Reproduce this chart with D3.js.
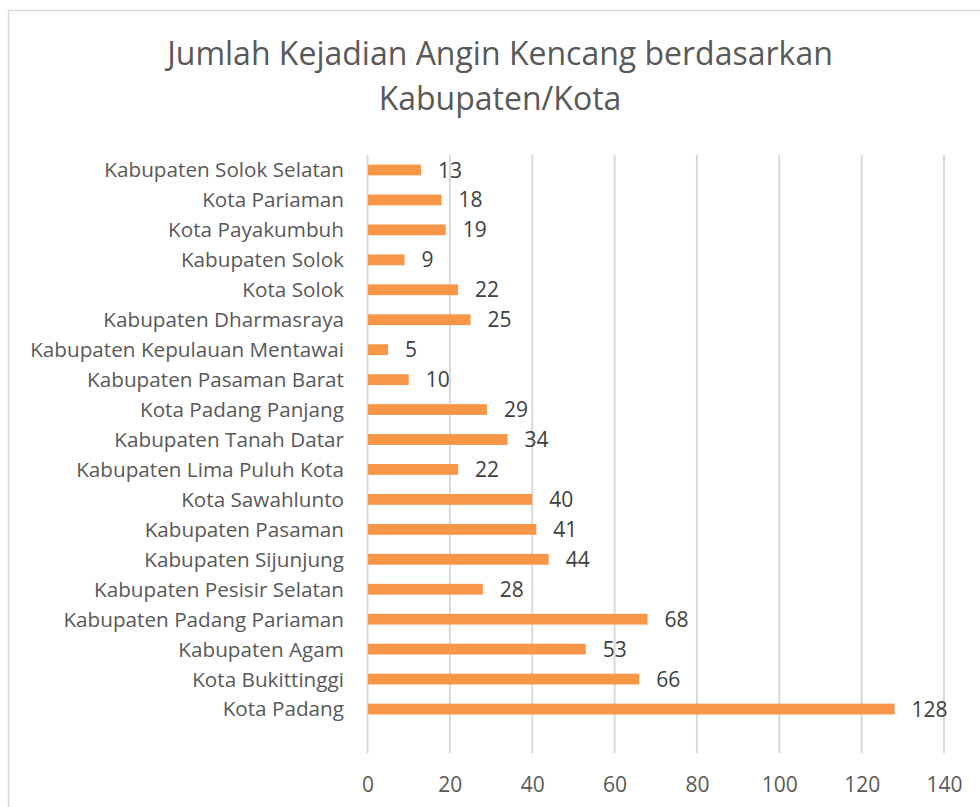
<!DOCTYPE html>
<html>
<head>
<meta charset="utf-8">
<script src="https://cdn.jsdelivr.net/npm/d3@7"></script>
<style>
  html, body { margin: 0; padding: 0; background: #ffffff; }
  svg { display: block; }
  text { font-family: "Open Sans", sans-serif; }
</style>
</head>
<body>
<svg id="chart" width="980" height="807"></svg>
<script>
const titleLines = ["Jumlah Kejadian Angin Kencang berdasarkan", "Kabupaten/Kota"];
const categories = [
  "Kabupaten Solok Selatan",
  "Kota Pariaman",
  "Kota Payakumbuh",
  "Kabupaten Solok",
  "Kota Solok",
  "Kabupaten Dharmasraya",
  "Kabupaten Kepulauan Mentawai",
  "Kabupaten Pasaman Barat",
  "Kota Padang Panjang",
  "Kabupaten Tanah Datar",
  "Kabupaten Lima Puluh Kota",
  "Kota Sawahlunto",
  "Kabupaten Pasaman",
  "Kabupaten Sijunjung",
  "Kabupaten Pesisir Selatan",
  "Kabupaten Padang Pariaman",
  "Kabupaten Agam",
  "Kota Bukittinggi",
  "Kota Padang"
];
const values = [13, 18, 19, 9, 22, 25, 5, 10, 29, 34, 22, 40, 41, 44, 28, 68, 53, 66, 128];
const xTicks = [0, 20, 40, 60, 80, 100, 120, 140];

const svg = d3.select("#chart");

// chart border
svg.append("rect")
  .attr("x", 8.5).attr("y", 10.5)
  .attr("width", 984).attr("height", 820)
  .attr("fill", "#ffffff")
  .attr("stroke", "#d9d9d9")
  .attr("stroke-width", 1.5);

// title
const title = svg.append("text")
  .attr("text-anchor", "middle")
  .attr("fill", "#595959")
  .style("font-size", "32px");
titleLines.forEach((t, i) => {
  title.append("tspan").attr("x", 500).attr("y", 65 + i * 45).text(t);
});

const plotTop = 155, plotBottom = 753;
const x = d3.scaleLinear().domain([0, 140]).range([367.5, 944]);
const y = d3.scaleBand().domain(categories).range([155, 724]).paddingInner(0.64).paddingOuter(0.32);

// gridlines
svg.append("g")
  .selectAll("line")
  .data(xTicks)
  .join("line")
  .attr("x1", d => x(d)).attr("x2", d => x(d))
  .attr("y1", plotTop).attr("y2", plotBottom)
  .attr("stroke", "#d9d9d9")
  .attr("stroke-width", 2);

// x axis labels
const xAxis = d3.axisBottom(x).tickValues(xTicks).tickSize(0).tickPadding(0);
const gx = svg.append("g").attr("transform", `translate(0,${plotBottom})`).call(xAxis);
gx.select(".domain").remove();
gx.selectAll("text")
  .attr("y", 39)
  .attr("dy", 0)
  .attr("fill", "#595959")
  .style("font-size", "21px")
  .style("font-family", "'Open Sans', sans-serif");

// y axis labels
const yAxis = d3.axisLeft(y).tickSize(0).tickPadding(0);
const gy = svg.append("g").attr("transform", `translate(344,0)`).call(yAxis);
gy.select(".domain").remove();
gy.selectAll("text")
  .attr("x", 0)
  .attr("dy", "0.36em")
  .attr("fill", "#595959")
  .style("font-size", "20.7px")
  .style("font-family", "'Open Sans', sans-serif");

// bars
svg.append("g")
  .selectAll("rect")
  .data(values)
  .join("rect")
  .attr("x", x(0) + 0.5)
  .attr("y", (d, i) => y(categories[i]))
  .attr("width", d => x(d) - x(0) - 0.5)
  .attr("height", y.bandwidth())
  .attr("fill", "#F79646");

// value labels
svg.append("g")
  .selectAll("text")
  .data(values)
  .join("text")
  .attr("x", d => x(d) + 17)
  .attr("y", (d, i) => y(categories[i]) + y.bandwidth() / 2)
  .attr("dy", "0.36em")
  .attr("fill", "#404040")
  .style("font-size", "21px")
  .text(d => d);
</script>
</body>
</html>
